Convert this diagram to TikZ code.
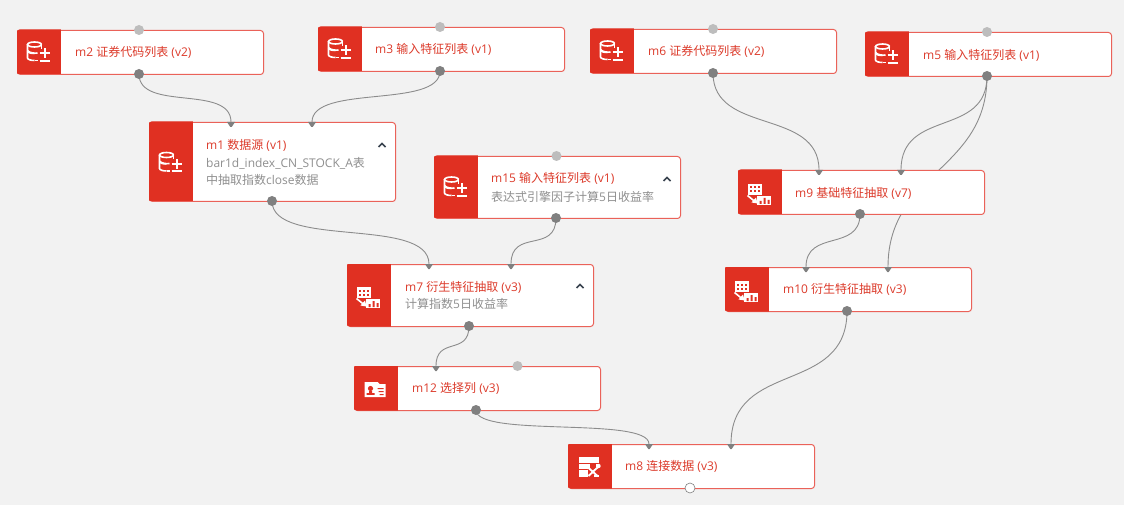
\documentclass[tikz,border=0pt]{standalone}
\usepackage{fontspec}
\setmainfont{Open Sans}
\newfontfamily\cjk{Noto Sans CJK SC}
\newcommand\zh[1]{{\cjk #1}}
\definecolor{pagebg}{HTML}{F2F2F2}
\definecolor{modred}{HTML}{E03022}
\definecolor{modline}{HTML}{EA6259}
\definecolor{titlered}{HTML}{DC3A2A}
\definecolor{subgrey}{HTML}{8F8F8F}
\definecolor{portdark}{HTML}{808080}
\definecolor{portidle}{HTML}{BDBDBD}
\definecolor{wire}{HTML}{8C8C8C}
\definecolor{chev}{HTML}{3A4450}
\pgfdeclarelayer{wires}
\pgfsetlayers{wires,main}
\tikzset{
  x=1pt,y=-1pt,
  modbox/.style={draw=modline,line width=1pt,fill=white,rounded corners=3pt,anchor=north west,inner sep=0pt,minimum width=246pt},
  title/.style={anchor=west,text=titlered,font=\fontsize{12}{14}\selectfont,inner sep=0pt},
  subtext/.style={anchor=west,text=subgrey,font=\fontsize{12}{14}\selectfont,inner sep=0pt},
  outport/.style={circle,fill=portdark,inner sep=0pt,minimum size=10pt},
  idleport/.style={circle,fill=portidle,inner sep=0pt,minimum size=10pt},
  freeport/.style={circle,fill=white,draw=portdark,line width=.6pt,inner sep=0pt,minimum size=10pt},
  conn/.style={draw=wire,line width=.9pt},
  ico/.style={draw=white,line width=1.6pt},
  dbicon/.pic={
    \draw[ico] (3,-7.5) arc[x radius=7,y radius=2.5,start angle=0,end angle=360];
    \draw[ico] (-11,-7.5) -- (-11,6) arc[x radius=7,y radius=2.5,start angle=180,end angle=90];
    \draw[ico] (-11,-1) arc[x radius=7,y radius=2.5,start angle=180,end angle=90];
    \draw[ico] (-11,-1.5) .. controls (-9,1) and (-4,1.5) .. (-1,1);
    \draw[ico] (-4,8.5) -- (-1,8.5);
    \draw[ico] (3,-7.5) -- (3,-3);
    \draw[white,line width=2pt] (1,1.5) -- (11,1.5) (6,-3.5) -- (6,6.5) (1,9) -- (11,9);
  },
  exicon/.pic={
    \fill[white] (-12,-8) rectangle (2,3);
    \foreach \a in {-10,-6,-2} \foreach \b in {-5.5,-1.5} \fill[modred] (\a,\b) rectangle (\a+2.2,\b+2);
    \draw[white,line width=1.6pt] (-12,3.5) -- (-4,10);
    \fill[white] (-8,10.5) -- (-2,11.5) -- (-3.5,5.5) -- cycle;
    \fill[white] (-3,4) rectangle (11,13);
    \fill[modred] (0,9) rectangle (2,12) (4,6) rectangle (6,12) (8,8) rectangle (10,12);
  },
  cardicon/.pic={
    \fill[white] (-11,-6) -- (2,-6) -- (4,-4) -- (10,-4) -- (10,9) -- (-11,9) -- cycle;
    \fill[modred] (-5,0.5) circle[radius=2.6];
    \fill[modred] (-9,6.8) rectangle (-1,5) (-6.5,5) rectangle (-3.5,3);
    \fill[modred] (2,0) rectangle (8,1) (3,3) rectangle (8,4) (4,6) rectangle (8,7);
  },
  tblicon/.pic={
    \fill[white] (-11,-9) rectangle (9,-3);
    \fill[white] (-11,-2) rectangle (0,3);
    \fill[white] (-11,4) rectangle (-2,11);
    \fill[white] (6,-2) rectangle (9,1);
    \fill[white] (4,9) rectangle (9,11);
    \draw[white,line width=1.9pt] (-2,1) -- (8,10);
    \draw[white,line width=1.9pt] (9,0.5) -- (-1,10);
    \fill[white] (9,0) circle[radius=2.2];
    \fill[white] (-2,1) circle[radius=2.2];
  },
}
% #1 name, #2 x, #3 y, #4 height, #5 icon, #6 icon dy
\newcommand\modfr[6]{%
  \node[modbox,minimum height=#4pt] (#1) at (#2,#3) {};
  \begin{scope}
    \clip[rounded corners=3pt] (#2-.5,#3-.5) rectangle (#2+246.5,#3+#4+.5);
    \fill[modred] (#2-.5,#3-.5) rectangle (#2+44,#3+#4+.5);
  \end{scope}
  \pic at (#2+21.5,#3+#4/2+#6) {#5};
}
\newcommand\inport[3]{%
  \coordinate (#1) at (#2,#3);
  \fill[portdark] (#2-4,#3) -- (#2+4,#3) -- (#2+.7,#3+5) -- (#2-.7,#3+5) -- cycle;
}
\newcommand\chevup[3]{%
  \draw[chev,line width=1.6pt] (#2-3.5,#3+2) -- (#2,#3-1.5) -- (#2+3.5,#3+2);
  \coordinate (#1) at (#2,#3);
}
\newcommand\wire[3]{\begin{pgfonlayer}{wires}\draw[conn] (#1) .. controls +(0,#3) and +(0,-#3) .. (#2);\end{pgfonlayer}}
\begin{document}
\begin{tikzpicture}
\begin{pgfonlayer}{wires}
  \fill[pagebg] (0,0) rectangle (1124,505);
\end{pgfonlayer}
\useasboundingbox (0,0) rectangle (1124,505);

\modfr{m2}{17}{30}{44}{dbicon}{0}
\modfr{m3}{318}{27}{44}{dbicon}{0}
\modfr{m6}{590}{29}{44}{dbicon}{0}
\modfr{m5}{865}{32}{44}{dbicon}{0}
\modfr{m1}{149}{122}{79}{dbicon}{1}
\modfr{m15}{434}{156}{62}{dbicon}{0}
\modfr{m9}{738}{170}{44}{exicon}{0}
\modfr{m7}{347}{264}{62}{exicon}{0}
\modfr{m10}{725}{267}{44}{exicon}{0}
\modfr{m12}{354}{366}{44}{cardicon}{0}
\modfr{m8}{568}{444}{44}{tblicon}{0}

\node[title] (t2) at (75,52) {m2 \zh{证券代码列表} (v2)};
\node[title] (t3) at (375,49) {m3 \zh{输入特征列表} (v1)};
\node[title] (t6) at (648,51) {m6 \zh{证券代码列表} (v2)};
\node[title] (t5) at (923,55) {m5 \zh{输入特征列表} (v1)};
\node[title] (t1) at (206,145) {m1 \zh{数据源} (v1)};
\node[subtext] (s1a) at (206,163) {bar1d\_index\_CN\_STOCK\_A\zh{表}};
\node[subtext] (s1b) at (206,180) {\zh{中抽取指数}close\zh{数据}};
\node[title] (t15) at (491,178) {m15 \zh{输入特征列表} (v1)};
\node[subtext] (s15) at (491,197) {\zh{表达式引擎因子计算}5\zh{日收益率}};
\node[title] (t9) at (795,193) {m9 \zh{基础特征抽取} (v7)};
\node[title] (t7) at (405,287) {m7 \zh{衍生特征抽取} (v3)};
\node[subtext] (s7) at (405,304) {\zh{计算指数}5\zh{日收益率}};
\node[title] (t10) at (783,289) {m10 \zh{衍生特征抽取} (v3)};
\node[title] (t12) at (412,388) {m12 \zh{选择列} (v3)};
\node[title] (t8) at (625,466) {m8 \zh{连接数据} (v3)};

\chevup{c1}{382}{145}
\chevup{c15}{667}{179}
\chevup{c7}{580}{286}

% idle ports
\node[idleport] (m2t) at (139,30) {};
\node[idleport] (m3t) at (440,27) {};
\node[idleport] (m6t) at (713,29) {};
\node[idleport] (m5t) at (987,32) {};
\node[idleport] (m15t) at (556.5,156) {};
\node[idleport] (m12b) at (517.5,366) {};
% outputs
\node[outport] (m2o) at (139,74) {};
\node[outport] (m3o) at (440,71) {};
\node[outport] (m6o) at (713,73) {};
\node[outport] (m5o) at (987,76) {};
\node[outport] (m1o) at (272,201) {};
\node[outport] (m15o) at (556,218) {};
\node[outport] (m9o) at (860,214) {};
\node[outport] (m7o) at (469,326) {};
\node[outport] (m10o) at (847,311) {};
\node[outport] (m12o) at (476,410) {};
\node[freeport] (m8o) at (690,488) {};
% inputs
\inport{m1a}{231}{122}
\inport{m1b}{312}{122}
\inport{m9a}{819}{170}
\inport{m9b}{901}{170}
\inport{m7a}{429}{264}
\inport{m7b}{511}{264}
\inport{m10a}{806}{267}
\inport{m10b}{888}{267}
\inport{m12a}{436}{366}
\inport{m8a}{649}{444}
\inport{m8b}{731}{444}

\wire{m2o.center}{m1a}{38}
\wire{m3o.center}{m1b}{38}
\wire{m6o.center}{m9a}{62}
\wire{m5o.center}{m9b}{62}
\wire{m5o.center}{m10b}{95}
\wire{m1o.center}{m7a}{48}
\wire{m15o.center}{m7b}{36}
\wire{m9o.center}{m10a}{38}
\wire{m7o.center}{m12a}{30}
\wire{m10o.center}{m8b}{85}
\wire{m12o.center}{m8a}{28}
\end{tikzpicture}
\end{document}
